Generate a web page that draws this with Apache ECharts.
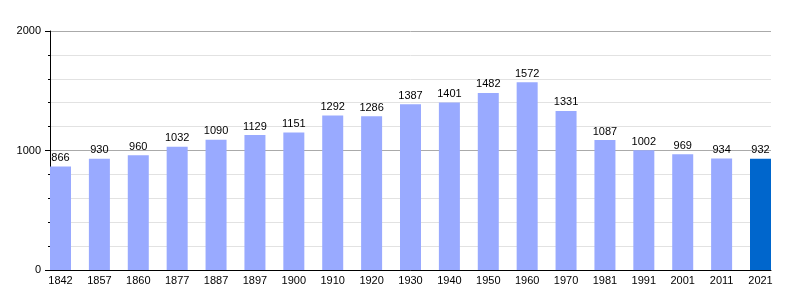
<!DOCTYPE html>
<html><head><meta charset="utf-8">
<script src="https://cdn.jsdelivr.net/npm/echarts@6/dist/echarts.min.js"></script>
<style>html,body{margin:0;padding:0;background:#fff}#c{width:800px;height:300px}</style>
</head><body><div id="c"></div>
<script>
const categories = ['1842','1857','1860','1877','1887','1897','1900','1910','1920','1930','1940','1950','1960','1970','1981','1991','2001','2011','2021'];
const population = [866,930,960,1032,1090,1129,1151,1292,1286,1387,1401,1482,1572,1331,1087,1002,969,934,932];
const yTicks = [0,1000,2000];
const barColor = '#99aaff';
const lastColor = '#0066cc';

const chart = echarts.init(document.getElementById('c'), null, {renderer:'canvas'});
const idx = categories.map((c,i)=>i);
chart.setOption({
  animation:false,
  textStyle:{fontFamily:'Liberation Sans, Arial, sans-serif'},
  grid:{left:50,right:29,top:31,bottom:30,containLabel:false},
  xAxis:{
    type:'value', min:-0.27, max:categories.length-1+0.27,
    axisLine:{show:true,onZero:false,lineStyle:{color:'#000',width:1}},
    axisTick:{show:false},
    splitLine:{show:false},
    axisLabel:{customValues:idx, formatter:v=>categories[Math.round(v)], color:'#000', fontSize:11, margin:5}
  },
  yAxis:{
    type:'value', min:0, max:2000, interval:1000,
    axisLine:{show:true,onZero:false,lineStyle:{color:'#000',width:1}},
    axisTick:{show:true,length:5,lineStyle:{color:'#000'}},
    minorTick:{show:true,splitNumber:5,length:2,lineStyle:{color:'#000'}},
    axisLabel:{customValues:yTicks,formatter:v=>String(v),color:'#000',fontSize:11,margin:9},
    splitLine:{show:true,lineStyle:{color:'#aaaaaa',width:1}},
    minorSplitLine:{show:true,lineStyle:{color:'#e2e2e2',width:1}}
  },
  series:[{
    type:'bar', barWidth:21,
    data:population.map((v,i)=>({value:[i,v],itemStyle:{color:i===population.length-1?lastColor:barColor}})),
    label:{show:true,position:'top',distance:3,color:'#000',fontSize:11,formatter:p=>p.value[1]}
  }]
});
</script></body></html>
